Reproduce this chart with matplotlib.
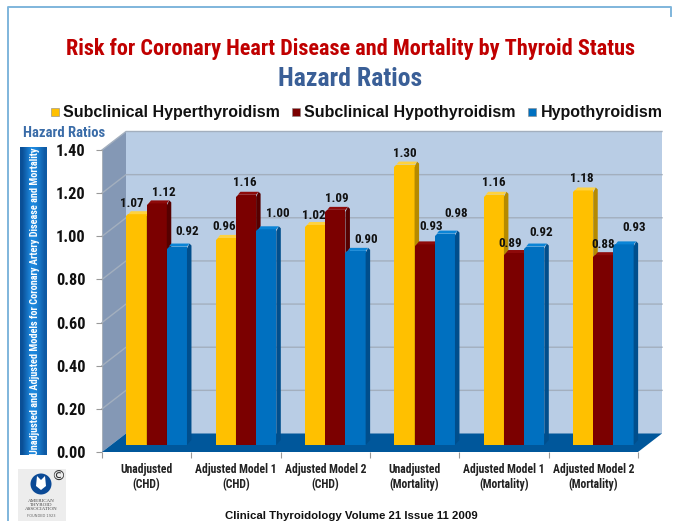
import matplotlib
matplotlib.use("Agg")
import matplotlib.pyplot as plt
from matplotlib.patches import Polygon, Rectangle, Circle
import matplotlib.font_manager as fm
import numpy as np

categories = ["Unadjusted\n(CHD)", "Adjusted Model 1\n(CHD)", "Adjusted Model 2\n(CHD)",
              "Unadjusted\n(Mortality)", "Adjusted Model 1\n(Mortality)", "Adjusted Model 2\n(Mortality)"]
series_names = ["Subclinical Hyperthyroidism", "Subclinical Hypothyroidism", "Hypothyroidism"]
hyperthyroid = [1.07, 0.96, 1.02, 1.30, 1.16, 1.18]
subclinical_hypo = [1.12, 1.16, 1.09, 0.93, 0.89, 0.88]
hypothyroid = [0.92, 1.00, 0.90, 0.98, 0.92, 0.93]
y_ticks = [0.0, 0.2, 0.4, 0.6, 0.8, 1.0, 1.2, 1.4]

# label nudges in pixels from the top centre of each bar, the labels are hand placed in the original
label_dx = [[-5, -2, -1, 0, 0, -1], [7, -1, 1, 7, -4, 0], [10, 12, 11, 11, 7, 11]]
label_dy = [13, 13, 11, 13, 14, 14], [13, 14, 13, 20, 12, 13], [17, 18, 13, 22, 16, 19]

colors = ["#FFC000", "#7B0000", "#0070C0"]
side_colors = ["#B58A00", "#560000", "#004E8C"]
top_colors = ["#FFD23F", "#8E0A0A", "#0A84D6"]

installed = {f.name for f in fm.fontManager.ttflist}
NARROW = next((n for n in ["Roboto Condensed", "Archivo Narrow", "Liberation Sans"] if n in installed))
W, H = 678, 521

fig = plt.figure(figsize=(W / 100, H / 100), dpi=100, facecolor="white")

# page decoration, in pixel coordinates
bg = fig.add_axes([0, 0, 1, 1])
bg.set_xlim(0, W)
bg.set_ylim(H, 0)
bg.axis("off")
bg.plot([8, 8, 671, 671], [H, 7, 7, 16], color="#7FB6DC", lw=1.4)

bg.text(350, 49, "Risk for Coronary Heart Disease and Mortality by Thyroid Status", color="#C00000",
        fontsize=16, fontweight="bold", family=NARROW, ha="center", va="center")
bg.text(350, 79, "Hazard Ratios", color="#3A5F97", fontsize=18.5, fontweight="bold",
        family=NARROW, ha="center", va="center")
bg.text(64, 133, "Hazard Ratios", color="#3A6CA8", fontsize=10.5, fontweight="bold",
        family=NARROW, ha="center", va="center")
bg.text(351, 516, "Clinical Thyroidology Volume 21 Issue 11 2009", color="#111111", fontsize=8.2,
        fontweight="bold", family="Liberation Sans", ha="center", va="center")

# legend
for name, c, sq, tx in zip(series_names, colors, [51, 292, 528], [63, 304, 541]):
    bg.add_patch(Rectangle((sq, 108), 8, 8, facecolor=c, edgecolor="#888888", lw=0.4))
    bg.text(tx, 112.5, name, fontsize=11.5, fontweight="bold", family="Liberation Sans",
            color="#111111", ha="left", va="center")

# blue strip with the long axis title
grad = np.array([[0.0, 0.5, 1.0, 0.9, 0.6, 0.2]])
strip_cmap = matplotlib.colors.LinearSegmentedColormap.from_list("strip", ["#0A4F96", "#1E8AE0"])
bg.imshow(grad, extent=[20, 47, 455, 147], aspect="auto", cmap=strip_cmap, zorder=1, interpolation="bilinear")
bg.set_xlim(0, W)
bg.set_ylim(H, 0)
bg.text(35, 301, "Unadjusted and Adjusted Models for Coronary Artery Disease and Mortality", color="white",
        fontsize=7.4, fontweight="bold", family=NARROW, rotation=90, ha="center", va="center", zorder=2)

# logo
bg.add_patch(Rectangle((18, 469), 48, 52, facecolor="#EDEDED", edgecolor="none"))
bg.add_patch(Circle((41, 484), 10.5, facecolor="#0B4A96", edgecolor="none"))
bg.add_patch(Polygon([[37, 476], [41, 480], [45, 476], [46, 486], [41, 490], [36, 486]], facecolor="white", edgecolor="none"))
bg.text(58, 477, "©", fontsize=10, color="#333333", ha="center", va="center")
bg.text(41, 505, "AMERICAN\nTHYROID\nASSOCIATION", fontsize=3.6, color="#444444", family="Liberation Serif",
        ha="center", va="center", linespacing=1.1)
bg.text(41, 516, "FOUNDED 1923", fontsize=2.6, color="#666666", ha="center", va="center")

# main chart, front plane of the box spans 102-638 px, back plane is shifted by 24, -18.5 px
left, right, bottom, top = 102, 662, 452, 132
ax = fig.add_axes([left / W, 1 - bottom / H, (right - left) / W, (bottom - top) / H])
ax.patch.set_alpha(0)
cat_px = (638 - 102) / 6
unit_px = (452 - 150) / 1.4
ax.set_xlim(-0.5, -0.5 + (right - left) / cat_px)
ax.set_ylim(0, (bottom - top) / unit_px)
for s in ax.spines.values():
    s.set_visible(False)

dx = 24 / cat_px
dy = 18.5 / unit_px
x0, x1 = -0.5, 5.5

ax.add_patch(Polygon([[x0 + dx, dy], [x1 + dx, dy], [x1 + dx, 1.4 + dy], [x0 + dx, 1.4 + dy]],
                     facecolor="#B9CDE5", edgecolor="none", zorder=1))
ax.add_patch(Polygon([[x0, 0], [x0 + dx, dy], [x0 + dx, 1.4 + dy], [x0, 1.4]],
                     facecolor="#8498B5", edgecolor="none", zorder=1))
ax.add_patch(Polygon([[x0, 0], [x1, 0], [x1 + dx, dy], [x0 + dx, dy]],
                     facecolor="#00579B", edgecolor="none", zorder=2))
for v in y_ticks[1:]:
    ax.plot([x0, x0 + dx, x1 + dx], [v, v + dy, v + dy], color="#A3AFBE", lw=1.0, zorder=1.5, clip_on=False)
ax.plot([x0, x0], [0, 1.4], color="#A8B0BA", lw=0.8, zorder=1.5)

# bars sit part way back on the floor
bar_w = 20.2 / cat_px
step = 20.2 / cat_px
shift = 10 / cat_px
base = 7 / unit_px
side_dx = 4.5 / cat_px
side_dy = 5 / unit_px
cut_x = 2 / cat_px
cut_y = 2 / unit_px

xs = np.arange(len(categories))
for i, vals in enumerate([hyperthyroid, subclinical_hypo, hypothyroid]):
    pos = xs + shift + (i - 1) * step
    ax.bar(pos, np.array(vals) - cut_y, width=bar_w, bottom=base, color=colors[i], zorder=3 + i * 0.1, linewidth=0)
    for p, v, ox, oy in zip(pos, vals, label_dx[i], label_dy[i]):
        l, r = p - bar_w / 2, p + bar_w / 2
        t = v + base - cut_y
        ax.add_patch(Polygon([[r, base], [r + side_dx, base + side_dy], [r + side_dx, t + side_dy - cut_y],
                              [r + side_dx - cut_x, t + side_dy], [r, t]],
                             facecolor=side_colors[i], edgecolor="none", zorder=3 + i * 0.1))
        # rounded shoulder of the bar, front colour first then the lit top
        ax.add_patch(Polygon([[l, t], [r, t], [r, t + cut_y], [l + cut_x, t + cut_y]],
                             facecolor=colors[i], edgecolor="none", zorder=3 + i * 0.1))
        ax.add_patch(Polygon([[l + cut_x, t + cut_y], [r, t + cut_y], [r + side_dx - cut_x, t + side_dy],
                              [l + side_dx, t + side_dy]],
                             facecolor=top_colors[i], edgecolor="none", zorder=3 + i * 0.1))
        ax.annotate(f"{v:.2f}", xy=(p, t), xytext=(ox, oy), textcoords="offset pixels", ha="center", va="center",
                    fontsize=9.4, fontweight="bold", family=NARROW, color="#111111", zorder=6)

ax.set_yticks(y_ticks)
ax.set_yticklabels([f"{v:.2f}" for v in y_ticks], fontsize=11.8, fontweight="bold", family=NARROW, color="#111111")
ax.set_xticks(np.arange(0, 7) - 0.5)
ax.set_xticklabels([])
ax.set_xticks(xs, minor=True)
ax.set_xticklabels(categories, minor=True, fontsize=8.4, fontweight="bold", family=NARROW, color="#222222",
                   linespacing=1.15)
ax.tick_params(axis="y", length=4, width=0.8, color="#999999", pad=8)
ax.tick_params(axis="x", which="major", length=4, width=0.8, color="#999999")
ax.tick_params(axis="x", which="minor", length=0, pad=8)

fig.savefig("out.png", dpi=100)
